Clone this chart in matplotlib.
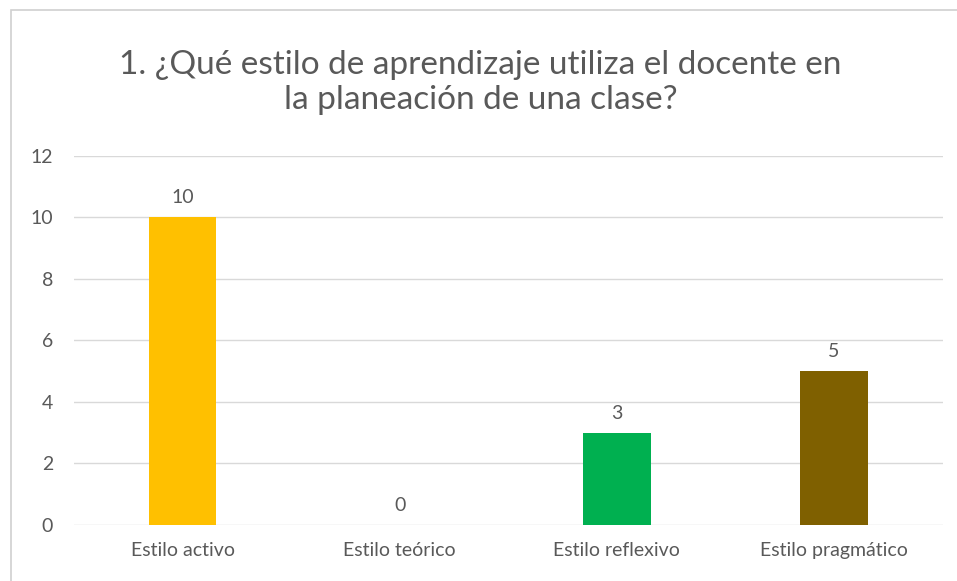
import matplotlib.pyplot as plt
from matplotlib.patches import Rectangle

categorias = ["Estilo activo", "Estilo teórico", "Estilo reflexivo", "Estilo pragmático"]
valores = [10, 0, 3, 5]
colores = ["#FFC000", "#4472C4", "#00B050", "#7F6000"]
ticks_y = [0, 2, 4, 6, 8, 10, 12]

plt.rcParams['font.family'] = ['Lato', 'DejaVu Sans']
gris = "#595959"

fig = plt.figure(figsize=(9.57, 5.81), dpi=100)
ax = fig.add_axes([0.0773, 0.0964, 0.9077, 0.6351])

# marco del gráfico
fig.patches.append(Rectangle((0.011, -0.01), 0.999, 0.993, transform=fig.transFigure,
                             fill=False, edgecolor="#D0D0D0", linewidth=1.2))

x = range(len(categorias))
barras = ax.bar(x, valores, width=0.31, color=colores, zorder=3)
for xi, v in zip(x, valores):
    ax.annotate(str(v), (xi, v), xytext=(0, 8), textcoords="offset points",
                ha="center", va="bottom", fontsize=14, color=gris)

ax.set_xlim(-0.5, len(categorias) - 0.5)
ax.set_ylim(0, 12)
ax.set_yticks(ticks_y)
ax.set_xticks(list(x))
ax.set_xticklabels(categorias)
ax.tick_params(axis="both", length=0, labelsize=14, colors=gris)
ax.tick_params(axis="y", pad=15)
ax.tick_params(axis="x", pad=12)
ax.grid(axis="y", color="#D9D9D9", linewidth=1, zorder=0)
for s in ax.spines.values():
    s.set_visible(False)

fig.text(0.502, 0.858, "1. ¿Qué estilo de aprendizaje utiliza el docente en\nla planeación de una clase?",
         ha="center", va="center", fontsize=24, color=gris, linespacing=1.2)

fig.savefig("out.png", dpi=100)
